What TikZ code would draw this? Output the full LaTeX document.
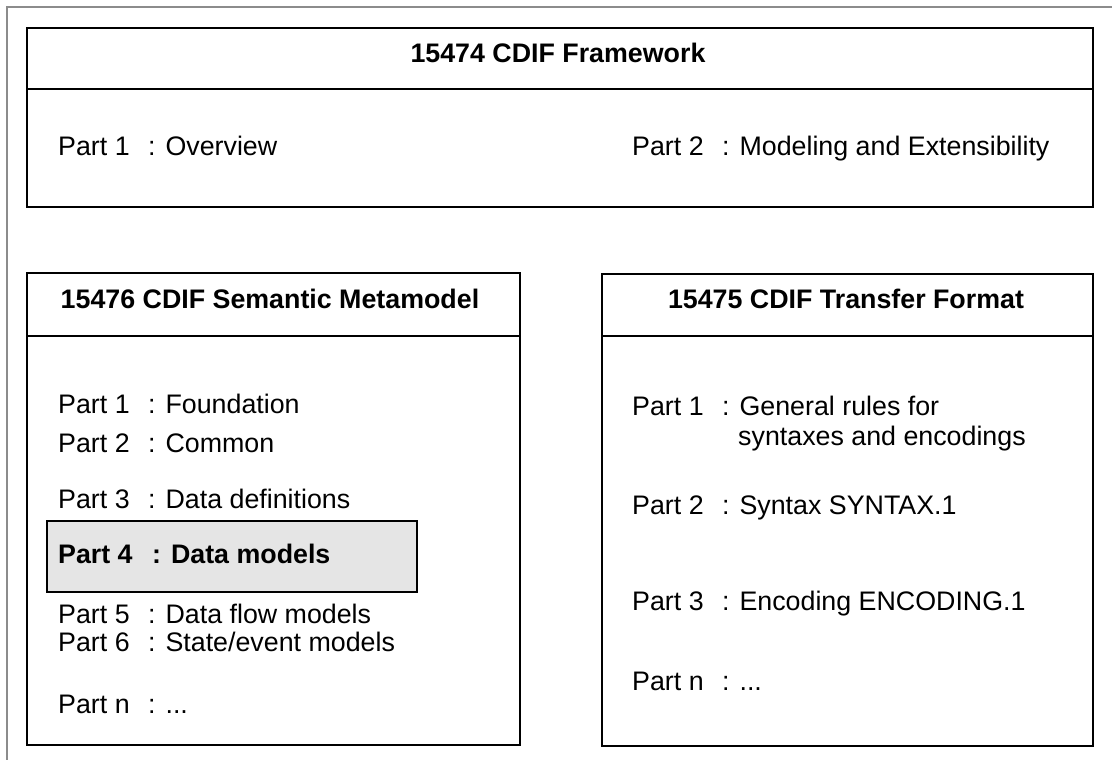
\documentclass[tikz,border=0pt]{standalone}
\usepackage{fontspec}
\setmainfont{Liberation Sans}
\newcommand\partl[3][90pt]{\makebox[#1][l]{#2}: #3}
\begin{document}
\begin{tikzpicture}[x=1pt,y=-1pt,
  box/.style={draw, line width=2.4pt, inner sep=0pt, outer sep=0pt, anchor=north west},
  divider/.style={line width=1.8pt},
  txt/.style={inner sep=0pt, anchor=base west, font=\fontsize{26.8}{30}\selectfont},
  head/.style={inner sep=0pt, anchor=base, font=\fontsize{26.8}{30}\selectfont\bfseries},
  frame/.style={draw=black!45, line width=1.2pt}]
\useasboundingbox (0,0) rectangle (1112,760);
% outer frame (open to right and bottom)
\coordinate (fa) at (7,760);
\coordinate (fb) at (7,7);
\coordinate (fc) at (1112,7);
\draw[frame] (fa) -- (fb) -- (fc);

% top box
\node[box, minimum width=1066pt, minimum height=179pt] (fw) at (27,28) {};
\coordinate (fwd) at (27,89);
\draw[divider] (fw.west |- fwd) -- (fw.east |- fwd);
\node[head] (fwh) at (558,63) {15474 CDIF Framework};
\node[txt] (fw1) at (58,155) {\partl{Part 1}{Overview}};
\node[txt] (fw2) at (632,155) {\partl{Part 2}{Modeling and Extensibility}};

% left box
\node[box, minimum width=493pt, minimum height=472pt] (sm) at (27,273) {};
\coordinate (smd) at (27,336);
\draw[divider] (sm.west |- smd) -- (sm.east |- smd);
\node[head] (smh) at (270,308) {15476 CDIF Semantic Metamodel};
\node[box, fill=black!10, line width=2.2pt, minimum width=370pt, minimum height=71pt] (p4) at (47,521) {};
\node[txt] (sm1) at (58,413) {\partl{Part 1}{Foundation}};
\node[txt] (sm2) at (58,452) {\partl{Part 2}{Common}};
\node[txt] (sm3) at (58,508) {\partl{Part 3}{Data definitions}};
\node[txt, font=\fontsize{26.8}{30}\selectfont\bfseries] (sm4) at (58,563) {\partl[94pt]{Part 4}{Data models}};
\node[txt] (sm5) at (58,623) {\partl{Part 5}{Data flow models}};
\node[txt] (sm6) at (58,651) {\partl{Part 6}{State/event models}};
\node[txt] (smn) at (58,713) {\partl{Part n}{...}};

% right box
\node[box, minimum width=491pt, minimum height=472pt] (tf) at (602,274) {};
\coordinate (tfd) at (602,336);
\draw[divider] (tf.west |- tfd) -- (tf.east |- tfd);
\node[head] (tfh) at (846,308) {15475 CDIF Transfer Format};
\node[txt] (tf1) at (632,415) {\partl{Part 1}{General rules for}};
\node[txt] (tf1b) at (738,445) {syntaxes and encodings};
\node[txt] (tf2) at (632,514) {\partl{Part 2}{Syntax SYNTAX.1}};
\node[txt] (tf3) at (632,610) {\partl{Part 3}{Encoding ENCODING.1}};
\node[txt] (tfn) at (632,690) {\partl{Part n}{...}};
\end{tikzpicture}
\end{document}
